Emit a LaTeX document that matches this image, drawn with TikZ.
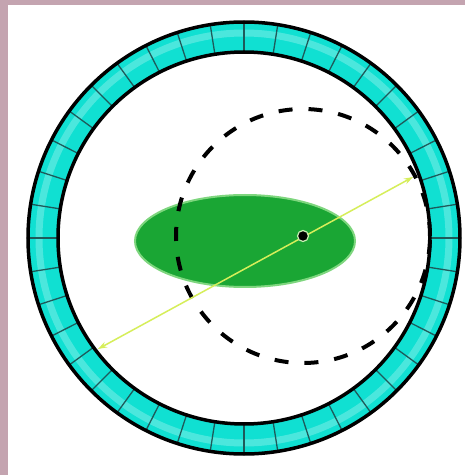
\documentclass[tikz,border=0pt]{standalone}
\usetikzlibrary{arrows.meta}
\definecolor{bgpink}{RGB}{196,164,176}
\definecolor{ringcyan}{RGB}{16,224,210}
\definecolor{segteal}{RGB}{30,90,90}
\definecolor{blobgreen}{RGB}{26,166,52}
\definecolor{blobedge}{RGB}{126,214,126}
\definecolor{chordgreen}{RGB}{214,238,90}
\tikzset{
  segline/.style={segteal,line width=1.3pt},
  ringline/.style={black,line width=3.5pt},
  orbit/.style={black,line width=4pt,dash pattern=on 14pt off 16pt},
  blob/.style={draw=blobedge,fill=blobgreen,line width=2pt},
  chord/.style={chordgreen,line width=1.5pt,{Stealth[length=9pt,width=6pt]}-{Stealth[length=9pt,width=6pt]}},
  dot/.style={circle,fill=black,draw={rgb,255:red,200;green,240;blue,180},line width=1.2pt,inner sep=0pt,minimum size=11pt}
}
\begin{document}
\begin{tikzpicture}[x=1pt,y=1pt]
\useasboundingbox (0,0) rectangle (465,475);
\fill[bgpink] (0,0) rectangle (465,475);
\fill[white] (8,0) rectangle (465,470);
\coordinate (O) at (244,237);
\coordinate (D) at (303,239);
\coordinate (A) at (98,126);
\coordinate (B) at (413,298);
\fill[ringcyan,even odd rule] (O) circle (216) (O) circle (186);
\draw[white,opacity=0.25,line width=7pt] (O) circle (205);
\foreach \a in {0,9,...,351}
  \draw[segline] ([shift={(\a:186)}]O) -- ([shift={(\a:216)}]O);
\draw[ringline] (O) circle (216);
\draw[ringline] (O) circle (186);
\draw[blob] (245,234) ellipse (110 and 46);
\draw[orbit] (D) circle (127);
\draw[chord] (A) -- (B);
\node[dot] (c) at (D) {};
\end{tikzpicture}
\end{document}
